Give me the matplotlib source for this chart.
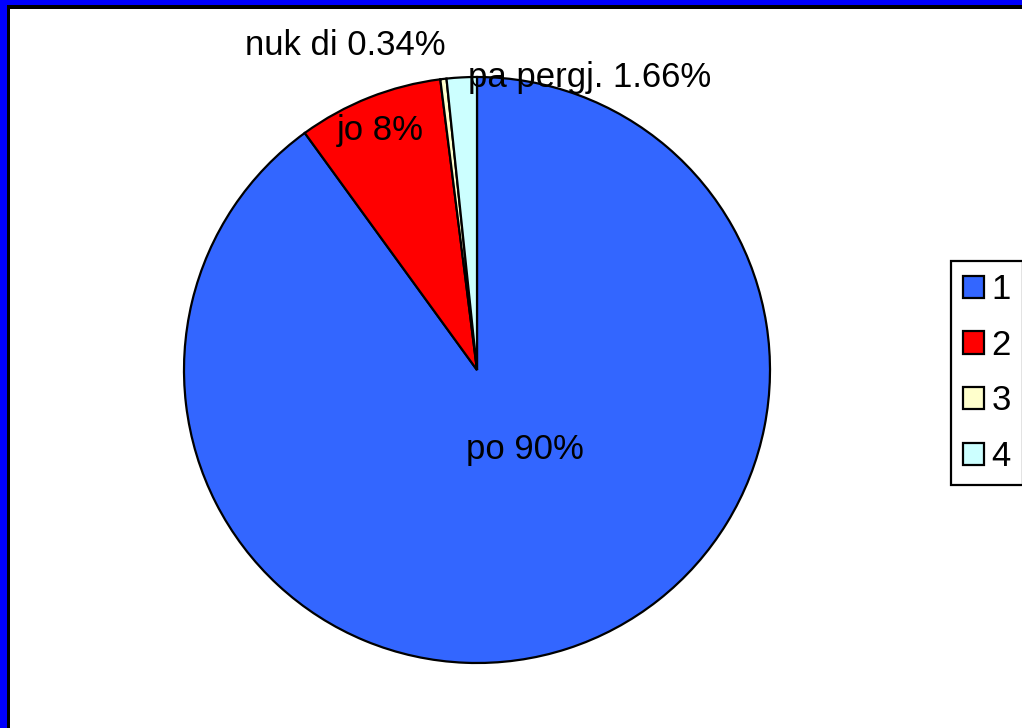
import matplotlib
matplotlib.use("Agg")
import matplotlib.pyplot as plt
from matplotlib.patches import Rectangle

plt.rcParams["font.family"] = ["Liberation Sans", "DejaVu Sans"]

values = [90, 8, 0.34, 1.66]
legend_labels = ["1", "2", "3", "4"]
slice_labels = ["po 90%", "jo 8%", "nuk di 0.34%", "pa pergj. 1.66%"]
colors = ["#3366FF", "#FF0000", "#FFFFCC", "#CCFFFF"]

W, H = 1022, 728
fig = plt.figure(figsize=(W / 100, H / 100), dpi=100, facecolor="#0000FF")

# ramka: blu jashte, e zeze brenda, pastaj e bardha
fig.add_artist(Rectangle((7 / W, 0), 1, (H - 5) / H, transform=fig.transFigure,
                         facecolor="black", edgecolor="none", zorder=-2))
fig.add_artist(Rectangle((10 / W, 0), 1, (H - 9) / H, transform=fig.transFigure,
                         facecolor="white", edgecolor="none", zorder=-1))

cx, cy, r = 477, 370, 293
ax = fig.add_axes([(cx - r) / W, (H - cy - r) / H, 2 * r / W, 2 * r / H])
ax.set_facecolor("none")

wedges, _ = ax.pie(values, colors=colors, startangle=90, counterclock=False,
                   wedgeprops=dict(edgecolor="black", linewidth=1.6))
ax.set_xlim(-1, 1)
ax.set_ylim(-1, 1)

fs = 25
label_pos = [(0.164, -0.273), (-0.331, 0.819), (-0.451, 1.109), (0.386, 0.997)]
for txt, (x, y) in zip(slice_labels, label_pos):
    ax.text(x, y, txt, ha="center", va="center", fontsize=fs, clip_on=False)

leg = fig.legend(wedges, legend_labels, loc="center left",
                 bbox_to_anchor=(951 / W, (H - 373) / H), fontsize=fs,
                 frameon=True, fancybox=False, edgecolor="black", framealpha=1,
                 handlelength=0.6, handleheight=0.6, handletextpad=0.22,
                 labelspacing=0.65, borderpad=0.35, borderaxespad=0)
leg.get_frame().set_linewidth(1.6)

fig.savefig("out.png", dpi=100, facecolor=fig.get_facecolor())
